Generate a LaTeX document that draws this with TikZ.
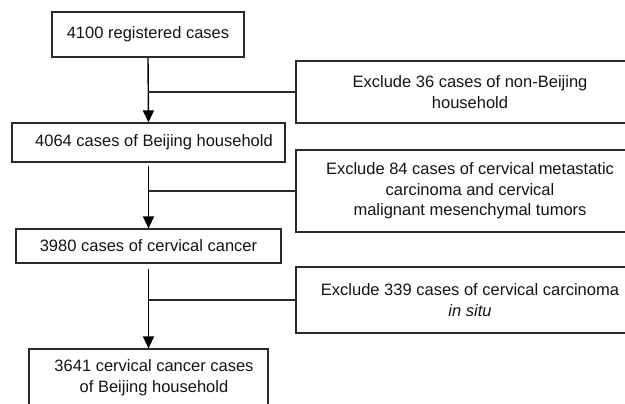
\documentclass[tikz,border=0pt]{standalone}
\usepackage{fontspec}
\setmainfont{Liberation Sans}
\usetikzlibrary{arrows.meta}
\definecolor{linegray}{HTML}{2A2A2A}

\begin{document}
\begin{tikzpicture}[x=1pt,y=1pt,
  box/.style={draw=linegray,line width=1.2pt,inner sep=0pt,align=center,
    text=black!92,font=\fontsize{16.5}{20.5}\selectfont},
  flow/.style={draw=black,line width=1.4pt,-{Triangle[length=12pt,width=11pt]}},
  branch/.style={draw=linegray,line width=1.1pt}]
\useasboundingbox (0,0) rectangle (625,-404);
\clip (0,0) rectangle (625,-404);
% main column
\node[box,minimum width=192pt,minimum height=45pt] (reg) at (148,-34.5) {4100 registered cases};
\node[box,minimum width=273pt,minimum height=39pt] (bj) at (148.5,-142.5) {\hspace*{11pt}4064 cases of Beijing household};
\node[box,minimum width=265pt,minimum height=34pt] (cc) at (148.5,-246) {3980 cases of cervical cancer};
\node[box,minimum width=239pt,minimum height=57pt] (fin) at (148.5,-377.5) {\hspace*{11pt}3641 cervical cancer cases\\\hspace*{11pt}of Beijing household};
% exclusions
\node[box,minimum width=348pt,minimum height=62pt] (exa) at (470,-92) {Exclude 36 cases of non-Beijing\\household};
\node[box,minimum width=348pt,minimum height=82pt] (exb) at (470,-191) {Exclude 84 cases of cervical metastatic\\carcinoma and cervical\\malignant mesenchymal tumors};
\node[box,minimum width=348pt,minimum height=66pt] (exc) at (470,-300) {Exclude 339 cases of cervical carcinoma\\\textit{in situ}};
% arrows
\draw[flow] (reg.south) -- (bj.north);
\draw[flow,shorten <=3pt] (bj.south) -- (cc.north);
\draw[flow,shorten <=5pt] (cc.south) -- (fin.north);
\draw[branch] (reg.south |- exa.west) -- (exa.west);
\draw[branch] (bj.south |- exb.west) -- (exb.west);
\draw[branch] (cc.south |- exc.west) -- (exc.west);
\end{tikzpicture}
\end{document}
